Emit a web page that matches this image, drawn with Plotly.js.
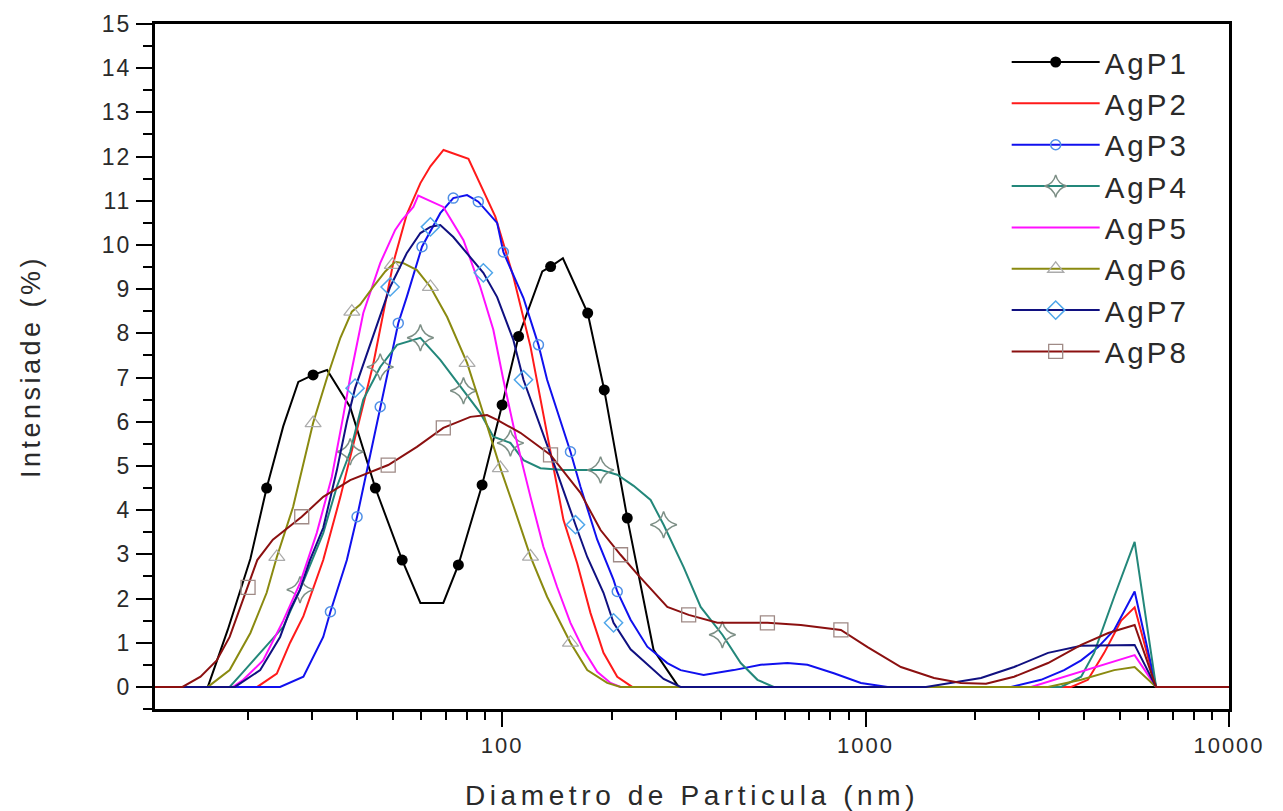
<!DOCTYPE html>
<html><head><meta charset="utf-8">
<script src="https://cdn.plot.ly/plotly-3.0.1.min.js"></script>
<style>
html,body{margin:0;padding:0;background:#fff;}
#chart{width:1283px;height:811px;}
.xtick text,.ytick text{letter-spacing:2px;}
.g-xtitle text{letter-spacing:4.6px;}
.g-ytitle text{letter-spacing:3.5px;}
.legendtext{letter-spacing:3px;}
</style></head><body><div id="chart"></div>
<script>
// ---- data (diameter in nm, intensity in %) ----
const seriesNames = ['AgP1','AgP2','AgP3','AgP4','AgP5','AgP6','AgP7','AgP8'];

const agp1X = [10,15.5,17.6,20.3,22.5,25.0,27.5,30.2,33.0,38.2,44.8,53.1,59.6,68.9,75.8,88.1,100,111,129,136,147,172,191,221,261,306,10000];
const agp1Y = [0,0,1.3,2.9,4.5,5.9,6.9,7.06,7.17,6.33,4.5,2.87,1.9,1.9,2.76,4.57,6.38,7.93,9.4,9.51,9.7,8.46,6.72,3.82,0.84,0,0];
const agp1MX = [22.5,30.2,44.8,53.1,75.8,88.1,100,111,136,172,191,221];
const agp1MY = [4.5,7.06,4.5,2.87,2.76,4.57,6.38,7.93,9.51,8.46,6.72,3.82];

const agp2X = [10,21.2,24.0,26.1,28.4,32.2,35.9,39.9,44.2,50.2,54.7,59.6,63.5,69.0,80.8,95.8,107.4,119.7,135.9,147.5,160.9,175.1,190.1,207.4,228,3680,4090,4535,5050,5500,6300,10000];
const agp2Y = [0,0,0.3,1.0,1.6,2.87,4.3,5.8,7.3,9.6,10.7,11.4,11.78,12.15,11.95,10.64,9.28,7.7,5.3,3.78,2.8,1.67,0.77,0.23,0,0,0.16,0.77,1.5,1.8,0,0];

const agp3X = [10,24.5,28.4,32.2,33.7,37.4,39.9,46.2,51.8,54.7,60.2,67.6,73.4,80.1,86.0,96.9,100.8,114.5,125.9,133.0,147.5,154.2,164.3,182.7,202.6,207.4,225.7,250.9,284.8,309.9,358.5,433.7,514.8,609.8,692,818,971,1150,2514,3040,3518,3919,4365,4832,5500,6300,10000];
const agp3Y = [0,0,0.23,1.13,1.7,2.87,3.85,6.34,8.23,8.83,9.96,10.72,11.06,11.13,10.98,10.5,9.84,8.8,7.74,6.95,5.81,5.32,4.53,3.33,2.42,2.16,1.52,0.91,0.54,0.38,0.27,0.38,0.5,0.54,0.5,0.31,0.09,0,0,0.16,0.38,0.6,0.9,1.29,2.16,0,0];
const agp3MX = [33.7,39.9,46.2,51.8,60.2,73.4,86.0,100.8,125.9,154.2,207.4];
const agp3MY = [1.7,3.85,6.34,8.23,9.96,11.06,10.98,9.84,7.74,5.32,2.16];

const agp4X = [10,17.8,19.4,22.0,25.0,27.8,32.2,35.1,38.2,41.5,46.2,51.4,59.6,67.6,78.3,87.1,94.6,105.4,114.5,127.5,147.5,186.6,207.4,230.1,256.2,278.2,315.8,351.8,403.7,453.5,504.2,559,3452,3919,4255,4832,5500,6300,10000];
const agp4Y = [0,0,0.34,0.84,1.36,2.2,3.48,4.53,5.32,6.5,7.24,7.74,7.9,7.4,6.7,6.2,5.66,5.52,5.13,4.95,4.91,4.91,4.8,4.55,4.23,3.67,2.71,1.81,1.18,0.54,0.16,0,0,0.23,0.77,2.04,3.28,0,0];
const agp4MX = [27.8,38.2,46.2,59.6,78.3,105.4,186.6,278.2,403.7];
const agp4MY = [2.2,5.32,7.24,7.9,6.7,5.52,4.91,3.67,1.18];

const agp5X = [10,18.2,19.4,22.0,25.0,27.8,30.9,34.0,36.5,38.2,41.5,46.2,50.8,53.1,57.0,58.8,68.9,78.3,87.1,94.6,100.8,110,119.7,129.9,141.7,154.2,167.5,182.7,198.8,211.8,2854,3518,4365,5500,6300,10000];
const agp5Y = [0,0,0.16,0.6,1.5,2.35,3.48,4.75,6.1,7.0,8.46,9.59,10.34,10.57,10.86,11.12,10.86,10.11,9.05,8.08,6.95,5.52,4.3,3.17,2.26,1.45,0.84,0.34,0.09,0,0,0.23,0.45,0.72,0,0];

const agp6X = [10,15.5,17.8,20.3,22.5,24.0,26.6,30.2,33.0,35.9,38.6,40.7,44.2,47.7,50.8,53.5,58.3,63.5,70.6,80.1,87.1,98.9,107.4,119.7,133.0,154.2,171.5,194.6,211.8,3178,3919,4832,5500,6300,10000];
const agp6Y = [0,0,0.38,1.22,2.13,2.94,4.07,5.97,7.0,7.9,8.49,8.65,9.05,9.4,9.62,9.59,9.43,9.05,8.37,7.33,6.4,4.95,4.1,2.95,2.04,1.0,0.38,0.09,0,0,0.16,0.38,0.45,0,0];
const agp6MX = [24.0,30.2,38.6,49.9,63.5,80.1,98.9,119.7,154.2];
const agp6MY = [2.94,5.97,8.49,9.55,9.05,7.33,4.95,2.95,1.0];

const agp7X = [10,18.4,21.6,23.0,24.5,26.1,27.8,29.6,32.2,35.1,37.4,39.4,44.2,49.2,54.7,59.6,63.5,67.6,73.4,81.8,88.8,96.9,107.4,114.5,127.5,141.7,159.2,171.5,190.1,202.6,225.7,250.9,278.2,309.9,1466,2078,2562,3178,3919,5500,6300,10000];
const agp7Y = [0,0,0.38,0.77,1.13,1.74,2.2,2.87,3.6,4.9,6.0,6.76,7.92,9.05,9.82,10.27,10.41,10.45,10.18,9.73,9.37,8.82,7.85,6.95,5.9,4.85,3.67,2.94,2.13,1.45,0.85,0.5,0.18,0,0,0.2,0.45,0.77,0.93,0.95,0,0];
const agp7MX = [39.4,49.2,63.5,88.8,114.5,159.2,202.6];
const agp7MY = [6.76,9.05,10.41,9.37,6.95,3.67,1.45];

const agp8X = [10,13.2,14.8,16.4,17.8,19.4,21.2,23.4,28.1,32.2,38.2,48.6,58.3,68.9,81.8,90.9,96.9,112.3,135.9,164.3,186.6,211.8,235.5,284.8,326.1,391.2,537,663.6,855.3,1013,1251,1543,1831,2145,2562,3178,3919,4655,5500,6300,10000];
const agp8Y = [0,0,0.23,0.6,1.13,1.97,2.87,3.33,3.85,4.3,4.68,5.02,5.43,5.86,6.11,6.15,6.04,5.75,5.25,4.39,3.55,2.99,2.55,1.81,1.63,1.45,1.45,1.4,1.29,0.9,0.45,0.2,0.09,0.07,0.23,0.54,0.95,1.22,1.4,0,0];
const agp8MX = [20.0,28.1,48.6,68.9,135.9,211.8,326.1,537,855.3];
const agp8MY = [2.25,3.85,5.02,5.86,5.25,2.99,1.63,1.45,1.29];

const xTickVals = [100,1000,10000];
const xTickText = ['100','1000','10000'];

// ---- styles ----
const lineData = [[agp1X,agp1Y],[agp2X,agp2Y],[agp3X,agp3Y],[agp4X,agp4Y],[agp5X,agp5Y],[agp6X,agp6Y],[agp7X,agp7Y],[agp8X,agp8Y]];
const markerData = [[agp1MX,agp1MY],null,[agp3MX,agp3MY],[agp4MX,agp4MY],null,[agp6MX,agp6MY],[agp7MX,agp7MY],[agp8MX,agp8MY]];
const styles = [
  {color:'#000000', marker:{symbol:'circle', size:11, color:'#000000', line:{width:0}}},
  {color:'#ff1a1a', marker:null},
  {color:'#1010ee', marker:{symbol:'circle-open', size:10, color:'#4f8fe6', line:{width:1.5}}},
  {color:'#23877a', marker:{symbol:'star-diamond-open', size:19, color:'#7d8f86', line:{width:1.5}}},
  {color:'#ff10ff', marker:null},
  {color:'#8a8a10', marker:{symbol:'triangle-up-open', size:14, color:'#ababab', line:{width:1.3}}},
  {color:'#101080', marker:{symbol:'diamond-open', size:14, color:'#4fa6ea', line:{width:1.5}}},
  {color:'#8b1010', marker:{symbol:'square-open', size:14, color:'#9f8a86', line:{width:1.3}}}
];

const traces = [];
seriesNames.forEach((nm,i)=>{
  const st = styles[i];
  traces.push({x:lineData[i][0], y:lineData[i][1], type:'scatter', mode:'lines',
    line:{color:st.color, width:2}, showlegend:false, hoverinfo:'skip', legendgroup:nm});
  if(markerData[i]){
    traces.push({x:markerData[i][0], y:markerData[i][1], type:'scatter', mode:'markers',
      marker:st.marker, showlegend:false, hoverinfo:'skip', legendgroup:nm});
  }
});
seriesNames.forEach((nm,i)=>{
  const st = styles[i];
  traces.push({x:[null], y:[null], type:'scatter', mode: st.marker ? 'lines+markers' : 'lines',
    name:nm, legendgroup:nm, line:{color:st.color, width:2},
    marker: st.marker || {size:1}});
});

const fontFam = 'Arial, "Liberation Sans", sans-serif';
const layout = {
  width:1283, height:811,
  margin:{l:155, r:54, t:24, b:102},
  paper_bgcolor:'#ffffff', plot_bgcolor:'#ffffff',
  font:{family:fontFam, color:'#2a2a2a'},
  showlegend:true,
  legend:{x:0.793, xanchor:'left', y:0.982, yanchor:'top', bgcolor:'rgba(0,0,0,0)',
    borderwidth:0, font:{family:fontFam, size:29.5, color:'#2a2a2a'}, itemwidth:88, tracegroupgap:0},
  xaxis:{type:'log', range:[1.045,4.0], tickmode:'array', tickvals:xTickVals, ticktext:xTickText,
    ticks:'outside', ticklen:15, tickwidth:2, tickcolor:'#000',
    minor:{dtick:'D1', ticks:'outside', ticklen:8, tickwidth:2, tickcolor:'#000', showgrid:false},
    showline:true, linecolor:'#000', linewidth:3, mirror:true, showgrid:false, zeroline:false,
    tickfont:{family:fontFam, size:22, color:'#2a2a2a'},
    title:{text:'Diametro de Particula (nm)', font:{family:fontFam, size:28, color:'#2a2a2a'}, standoff:28}},
  yaxis:{range:[-0.5,15], dtick:1, tick0:0,
    ticks:'outside', ticklen:16, tickwidth:2, tickcolor:'#000',
    minor:{dtick:0.5, tick0:0, ticks:'outside', ticklen:9, tickwidth:2, tickcolor:'#000', showgrid:false},
    showline:true, linecolor:'#000', linewidth:3, mirror:true, showgrid:false, zeroline:false,
    tickfont:{family:fontFam, size:23, color:'#2a2a2a'},
    title:{text:'Intensiade (%)', font:{family:fontFam, size:27, color:'#2a2a2a'}, standoff:54}}
};
Plotly.newPlot('chart', traces, layout, {displayModeBar:false, staticPlot:true});
</script></body></html>
